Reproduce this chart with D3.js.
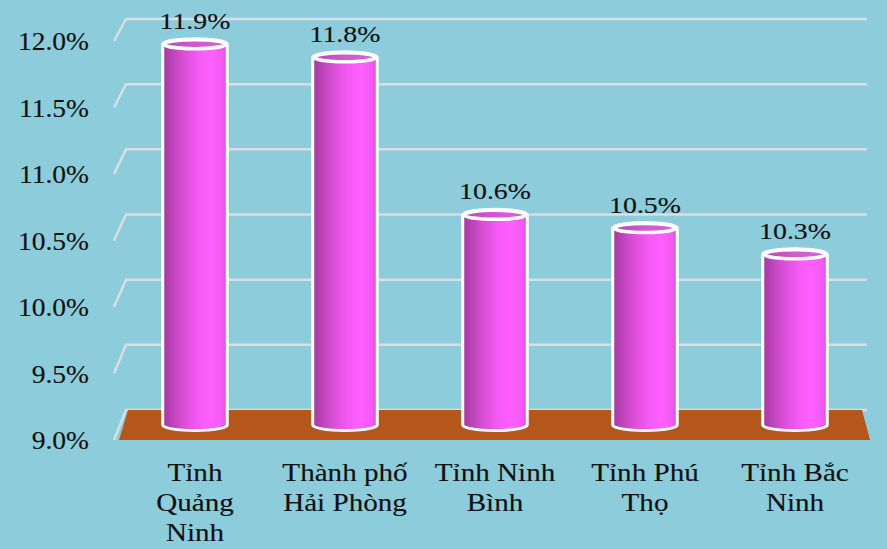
<!DOCTYPE html>
<html>
<head>
<meta charset="utf-8">
<script src="https://cdn.jsdelivr.net/npm/d3@7"></script>
<style>
  html, body { margin: 0; padding: 0; background: #8DCDDB; }
  svg { display: block; }
</style>
</head>
<body>
<svg id="chart" width="887" height="549"></svg>
<script>
// ---- data ----
const categories = [
  ["Tỉnh", "Quảng", "Ninh"],
  ["Thành phố", "Hải Phòng"],
  ["Tỉnh Ninh", "Bình"],
  ["Tỉnh Phú", "Thọ"],
  ["Tỉnh Bắc", "Ninh"]
];
const values = [11.9, 11.8, 10.6, 10.5, 10.3];
const valueLabels = ["11.9%", "11.8%", "10.6%", "10.5%", "10.3%"];
const tickValues = [9.0, 9.5, 10.0, 10.5, 11.0, 11.5, 12.0];
const tickLabels = ["9.0%", "9.5%", "10.0%", "10.5%", "11.0%", "11.5%", "12.0%"];

const FONT = "'Liberation Serif', 'DejaVu Serif', serif";

// ---- layout ----
const W = 887, H = 549;
const svg = d3.select("#chart");
svg.append("rect").attr("width", W).attr("height", H).attr("fill", "#8DCDDB");

const keys = categories.map((c, i) => "c" + i);
const x = d3.scaleBand().domain(keys).range([120, 870]).paddingInner(0.57).paddingOuter(0.285);
const yFront = d3.scaleLinear().domain([9, 12]).range([440, 41]);
const yBack = d3.scaleLinear().domain([9, 12]).range([410, 19]);
const yMid = d3.scaleLinear().domain([9, 12]).range([425, 31]);

const xFrontL = 114, xBackL = 126, xBackR = 867;

// gridlines (left wall + back wall)
svg.append("g").selectAll("path").data(tickValues).join("path")
  .attr("d", v => `M${xFrontL},${yFront(v)} L${xBackL},${yBack(v)} L${xBackR},${yBack(v)}`)
  .attr("fill", "none").attr("stroke", "#D8DEE1").attr("stroke-width", 2.5);

// floor
const floorPts = [[119, yFront(9)], [128, yBack(9)], [862, yBack(9)], [870, yFront(9)]];
svg.append("path").attr("d", d3.line()(floorPts) + "Z").attr("fill", "#B5561A");

// y tick labels
svg.append("g").selectAll("text").data(tickValues).join("text")
  .attr("transform", v => `translate(89,${yFront(v) + 9}) scale(1.1,1)`)
  .attr("text-anchor", "end").attr("font-size", 25)
  .attr("font-family", FONT).attr("fill", "#111")
  .attr("stroke", "#111").attr("stroke-width", 0.15)
  .text((v, i) => tickLabels[i]);

// gradients
const defs = svg.append("defs");
const g1 = defs.append("linearGradient").attr("id", "body").attr("x1", 0).attr("x2", 1).attr("y1", 0).attr("y2", 0);
[[0, "#A2399E"], [0.25, "#CF4BCB"], [0.55, "#F55AF5"], [0.75, "#FF60FF"], [0.92, "#F25AF2"], [1, "#DA4ED8"]]
  .forEach(([o, c]) => g1.append("stop").attr("offset", o).attr("stop-color", c));
const g2 = defs.append("linearGradient").attr("id", "top").attr("x1", 0).attr("x2", 1).attr("y1", 0).attr("y2", 0);
[[0, "#B847B4"], [0.5, "#D25ACE"], [1, "#D960D6"]]
  .forEach(([o, c]) => g2.append("stop").attr("offset", o).attr("stop-color", c));

// bars (cylinders)
const bw = x.bandwidth();
const rx = bw / 2, ry = 5.5;
const yBase = yMid(9);
const bars = svg.append("g").selectAll("g").data(values).join("g");
bars.append("path")
  .attr("d", (v, i) => {
    const cx = x(keys[i]) + bw / 2, yt = yMid(v);
    return `M${cx - rx},${yt} L${cx - rx},${yBase} A${rx},${ry} 0 0 0 ${cx + rx},${yBase} L${cx + rx},${yt} A${rx},${ry} 0 0 0 ${cx - rx},${yt} Z`;
  })
  .attr("fill", "url(#body)").attr("stroke", "#FFFFFF").attr("stroke-width", 3);
bars.append("ellipse")
  .attr("cx", (v, i) => x(keys[i]) + bw / 2).attr("cy", v => yMid(v))
  .attr("rx", rx - 1.5).attr("ry", ry - 1)
  .attr("fill", "url(#top)").attr("stroke", "#FFFFFF").attr("stroke-width", 3.5);

// value labels
svg.append("g").selectAll("text").data(values).join("text")
  .attr("transform", (v, i) => `translate(${x(keys[i]) + bw / 2},${yMid(v) - ry - 10}) scale(1.16,1)`)
  .attr("text-anchor", "middle").attr("font-size", 24)
  .attr("font-family", FONT).attr("fill", "#111")
  .attr("stroke", "#111").attr("stroke-width", 0.15)
  .text((v, i) => valueLabels[i]);

// category labels
const cat = svg.append("g").selectAll("g").data(categories).join("g")
  .attr("transform", (c, i) => `translate(${x(keys[i]) + bw / 2},481)`);
cat.selectAll("text").data(d => d).join("text")
  .attr("transform", (d, j) => `translate(0,${j * 30}) scale(1.12,1)`)
  .attr("text-anchor", "middle").attr("font-size", 26)
  .attr("font-family", FONT).attr("fill", "#111")
  .attr("stroke", "#111").attr("stroke-width", 0.15)
  .text(d => d);
</script>
</body>
</html>
